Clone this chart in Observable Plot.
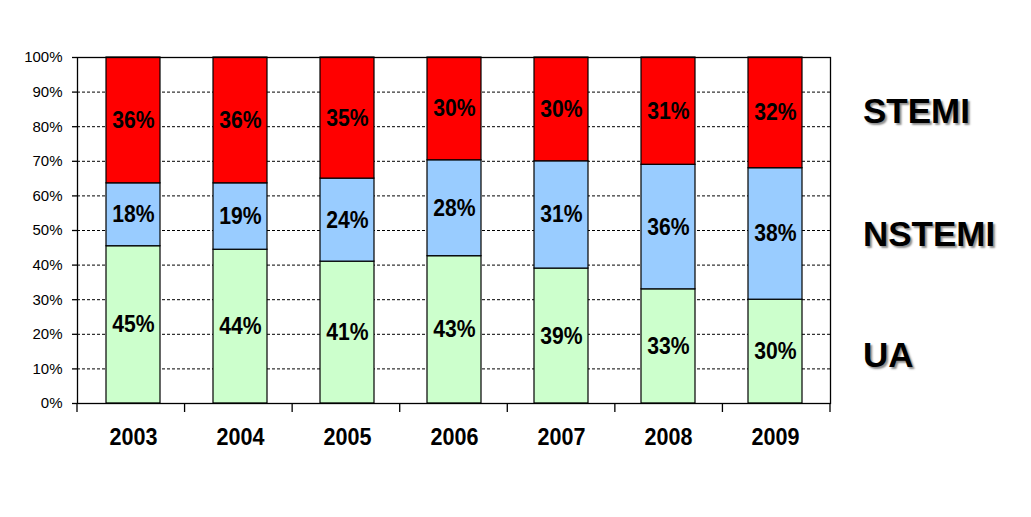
<!DOCTYPE html>
<html>
<head>
<meta charset="utf-8">
<script src="https://cdn.jsdelivr.net/npm/d3@7"></script>
<script src="https://cdn.jsdelivr.net/npm/@observablehq/plot@0.6"></script>
<style>
  html, body { margin: 0; padding: 0; background: #fff; }
  #wrap { position: relative; width: 1031px; height: 517px; font-family: "Liberation Sans", Arial, sans-serif; }
  .legend { position: absolute; left: 863px; font-weight: bold; font-size: 35px; color: #000;
            text-shadow: 2px 2px 2px rgba(0,0,0,0.45); line-height: 1; white-space: nowrap; }
</style>
</head>
<body>
<div id="wrap"></div>
<script>
const years = ["2003", "2004", "2005", "2006", "2007", "2008", "2009"];
const series = ["UA", "NSTEMI", "STEMI"];
const ua = [45, 44, 41, 43, 39, 33, 30];
const nstemi = [18, 19, 24, 28, 31, 36, 38];
const stemi = [36, 36, 35, 30, 30, 31, 32];
const yTicks = [0, 0.1, 0.2, 0.3, 0.4, 0.5, 0.6, 0.7, 0.8, 0.9, 1];
const colors = ["#CCFFCC", "#99CCFF", "#FF0000"];

const valuesBySeries = [ua, nstemi, stemi];
const data = [];
years.forEach((year, i) => {
  series.forEach((s, j) => data.push({year, series: s, value: valuesBySeries[j][i]}));
});

const font = '"Liberation Sans", Arial, sans-serif';

// tick marks between categories along the bottom axis
function categoryTicks(index, scales, values, dimensions) {
  const {width, marginLeft, marginRight, height, marginBottom} = dimensions;
  const n = years.length;
  const step = (width - marginLeft - marginRight) / n;
  const g = document.createElementNS("http://www.w3.org/2000/svg", "g");
  const y0 = height - marginBottom;
  for (let k = 0; k <= n; k++) {
    const x = marginLeft + k * step;
    const l = document.createElementNS("http://www.w3.org/2000/svg", "line");
    l.setAttribute("x1", x); l.setAttribute("x2", x);
    l.setAttribute("y1", y0); l.setAttribute("y2", y0 + 9);
    l.setAttribute("stroke", "#000");
    l.setAttribute("stroke-width", 1.3);
    g.appendChild(l);
  }
  return g;
}

const chart = Plot.plot({
  width: 1031,
  height: 517,
  marginLeft: 77,
  marginRight: 201,
  marginTop: 57,
  marginBottom: 114,
  style: {fontFamily: font, background: "#fff", color: "#000"},
  x: {domain: years, paddingInner: 0.5, paddingOuter: 0.25, label: null},
  y: {domain: [0, 1], label: null},
  color: {domain: series, range: colors},
  marks: [
    Plot.ruleY(yTicks.filter(t => t > 0 && t < 1), {stroke: "#000", strokeWidth: 1, strokeDasharray: "3,2"}),
    Plot.barY(data, Plot.stackY({offset: "normalize", x: "year", y: "value", fill: "series", stroke: "#000", strokeWidth: 1.2})),
    Plot.text(data, Plot.stackY({offset: "normalize", x: "year", y: "value", z: "series",
      text: d => d.value + "%", fontSize: 23.5, fontWeight: "bold", fill: "#000"})),
    Plot.frame({stroke: "#000", strokeWidth: 1.3}),
    Plot.axisY({ticks: yTicks, tickFormat: d3.format(".0%"), tickSize: 5, tickPadding: 10, fontSize: 15, label: null, strokeWidth: 1.3}),
    Plot.axisX({tickSize: 0, tickPadding: 24, fontSize: 24.5, fontWeight: "bold", label: null}),
    categoryTicks
  ]
});

// narrow the bold labels horizontally (condensed look of the original)
function condense(selector, sx) {
  chart.querySelectorAll(selector).forEach(t => {
    const tr = t.getAttribute("transform") || "";
    t.setAttribute("transform", `${tr} scale(${sx},1)`);
  });
}
condense('g[aria-label="text"] text', 0.9);
condense('g[aria-label="x-axis tick label"] text', 0.88);

const wrap = document.getElementById("wrap");
wrap.appendChild(chart);

const legendPos = [{name: "STEMI", top: 93}, {name: "NSTEMI", top: 216}, {name: "UA", top: 337}];
legendPos.forEach(p => {
  const d = document.createElement("div");
  d.className = "legend";
  d.style.top = p.top + "px";
  d.textContent = p.name;
  wrap.appendChild(d);
});
</script>
</body>
</html>
